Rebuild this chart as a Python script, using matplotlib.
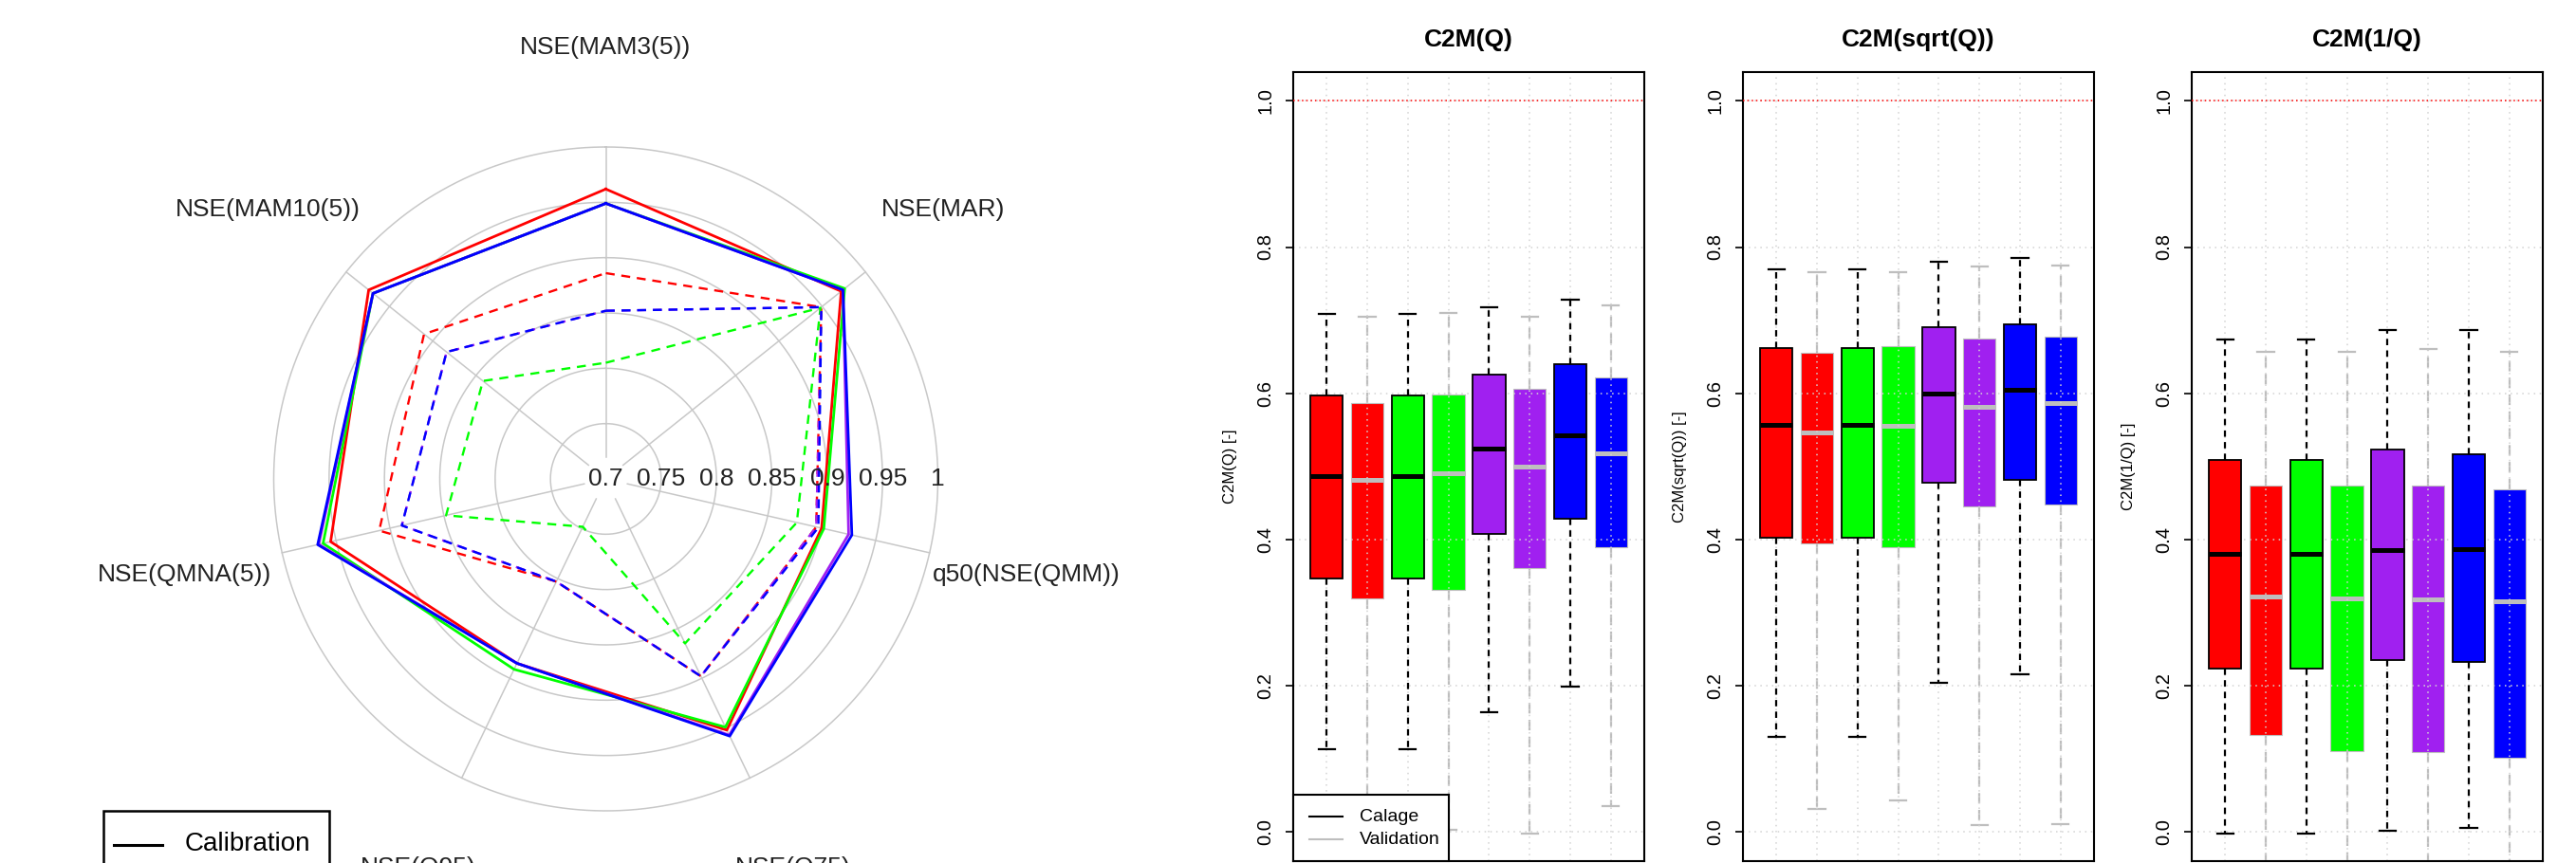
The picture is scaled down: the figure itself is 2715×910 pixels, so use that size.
import numpy as np
import matplotlib
matplotlib.use("Agg")
import matplotlib.pyplot as plt
from matplotlib.patches import Rectangle
from matplotlib.lines import Line2D

plt.rcParams['font.family'] = ['Liberation Sans', 'DejaVu Sans']

# ---- radar data (NSE criteria, clockwise from top) ----
criteria = ["NSE(MAM3(5))", "NSE(MAR)", "q50(NSE(QMM))", "NSE(Q75)",
            "NSE(Q95)", "NSE(QMNA(5))", "NSE(MAM10(5))"]
red_cal = [0.962, 0.972, 0.900, 0.952, 0.885, 0.955, 0.974]
green_cal = [0.949, 0.976, 0.902, 0.949, 0.891, 0.962, 0.969]
purple_cal = [0.949, 0.974, 0.925, 0.957, 0.885, 0.966, 0.969]
blue_cal = [0.949, 0.974, 0.928, 0.958, 0.885, 0.967, 0.969]
red_val = [0.886, 0.949, 0.895, 0.898, 0.803, 0.910, 0.910]
green_val = [0.805, 0.948, 0.877, 0.865, 0.748, 0.848, 0.842]
purple_val = [0.852, 0.949, 0.895, 0.898, 0.803, 0.889, 0.884]
blue_val = [0.852, 0.949, 0.897, 0.898, 0.803, 0.889, 0.884]
ring_values = [0.7, 0.75, 0.8, 0.85, 0.9, 0.95, 1.0]
ring_labels = ["0.7", "0.75", "0.8", "0.85", "0.9", "0.95", "1"]

# ---- boxplot data: order red cal, red val, green cal, green val,
# purple cal, purple val, blue cal, blue val ----
q_hi = [0.708, 0.705, 0.708, 0.710, 0.718, 0.705, 0.728, 0.720]
q_q3 = [0.597, 0.587, 0.597, 0.598, 0.626, 0.606, 0.640, 0.621]
q_med = [0.487, 0.481, 0.487, 0.490, 0.524, 0.500, 0.543, 0.518]
q_q1 = [0.347, 0.320, 0.347, 0.331, 0.408, 0.361, 0.428, 0.389]
q_lo = [0.113, 0.045, 0.113, 0.003, 0.164, -0.003, 0.199, 0.035]

sq_hi = [0.769, 0.766, 0.769, 0.766, 0.780, 0.773, 0.785, 0.775]
sq_q3 = [0.662, 0.655, 0.662, 0.664, 0.690, 0.675, 0.694, 0.677]
sq_med = [0.557, 0.546, 0.557, 0.556, 0.599, 0.581, 0.605, 0.586]
sq_q1 = [0.403, 0.395, 0.403, 0.390, 0.478, 0.445, 0.482, 0.448]
sq_lo = [0.130, 0.031, 0.130, 0.043, 0.204, 0.009, 0.216, 0.011]

inv_hi = [0.674, 0.657, 0.674, 0.657, 0.687, 0.661, 0.687, 0.657]
inv_q3 = [0.509, 0.474, 0.509, 0.474, 0.523, 0.474, 0.516, 0.469]
inv_med = [0.380, 0.322, 0.380, 0.320, 0.386, 0.318, 0.387, 0.316]
inv_q1 = [0.224, 0.132, 0.224, 0.111, 0.235, 0.109, 0.233, 0.102]
inv_lo = [-0.003, -0.080, -0.003, -0.080, 0.002, -0.080, 0.005, -0.080]

panel_titles = ["C2M(Q)", "C2M(sqrt(Q))", "C2M(1/Q)"]
panel_ylabels = ["C2M(Q) [-]", "C2M(sqrt(Q)) [-]", "C2M(1/Q) [-]"]
yticks = [0.0, 0.2, 0.4, 0.6, 0.8, 1.0]
legend_labels = ["Calage", "Validation"]

colors = ["#FF0000", "#00FF00", "#A020F0", "#0000FF"]

W, H = 2715, 910
fig = plt.figure(figsize=(W / 100, H / 100), dpi=100)


def fx(x):
    return x / W


def fy(y):
    return 1 - y / H


# ================= radar chart =================
cx, cy, R = 638.5, 505, 350
ax = fig.add_axes([fx(cx - R), fy(cy + R), 2 * R / W, 2 * R / H], polar=True)
ax.set_theta_offset(np.pi / 2)
ax.set_theta_direction(-1)
ax.set_ylim(0.7, 1.0)
ax.grid(False)
ax.set_xticks([])
ax.set_yticks([])
ax.spines['polar'].set_visible(False)
ax.patch.set_alpha(0)

n = len(criteria)
theta = np.arange(n) * 2 * np.pi / n
circ = np.linspace(0, 2 * np.pi, 500)
for v in ring_values[1:]:
    ax.plot(circ, np.full_like(circ, v), color="#C8C8C8", lw=1.1,
            clip_on=False, zorder=1)
for t in theta:
    ax.plot([t, t], [0.72, 1.0], color="#C8C8C8", lw=1.1, clip_on=False,
            zorder=1)

closed = np.append(theta, theta[0])
for vals, c in zip([red_val, green_val, purple_val, blue_val], colors):
    ax.plot(closed, vals + vals[:1], color=c, lw=1.7, ls=(0, (4, 3)),
            zorder=3)
for vals, c in zip([red_cal, green_cal, purple_cal, blue_cal], colors):
    ax.plot(closed, vals + vals[:1], color=c, lw=2.0, zorder=4)

for v, lab in zip(ring_values, ring_labels):
    ax.text(np.pi / 2, v, lab, ha="center", va="center", fontsize=19,
            color="#222222", zorder=5)
for t, lab in zip(theta, criteria):
    ax.text(t, 1.09, lab, ha="center", va="center", fontsize=19,
            color="#222222", clip_on=False)

# legend box (runs off the bottom edge)
fig.add_artist(Rectangle((fx(109), fy(930)), (347 - 109) / W,
                         (930 - 855) / H, transform=fig.transFigure,
                         fill=False, ec="black", lw=1.8))
fig.add_artist(Line2D([fx(120), fx(171)], [fy(891), fy(891)],
                      transform=fig.transFigure, color="black", lw=2.2))
fig.text(fx(195), fy(890), "Calibration", fontsize=20, ha="left",
         va="center")

# ================= boxplots =================
panel_stats = [
    (q_hi, q_q3, q_med, q_q1, q_lo),
    (sq_hi, sq_q3, sq_med, sq_q1, sq_lo),
    (inv_hi, inv_q3, inv_med, inv_q1, inv_lo),
]
panel_left = [1363, 1837, 2310]
top, bottom, pw = 75.5, 908, 370
box_colors = [c for c in colors for _ in range(2)]
grey = "#BEBEBE"

for k, (hi, q3, med, q1, lo) in enumerate(panel_stats):
    bx = fig.add_axes([fx(panel_left[k]), fy(bottom), pw / W,
                       (bottom - top) / H])
    bx.set_xlim(0.18, 8.82)
    bx.set_ylim(-0.04, 1.04)

    for i in range(8):
        calib = i % 2 == 0
        st = [dict(med=med[i], q1=q1[i], q3=q3[i], whislo=lo[i],
                   whishi=hi[i], fliers=[])]
        ec = "black" if calib else grey
        z = 4 if calib else 1
        bx.bxp(st, positions=[i + 1], widths=0.8, patch_artist=True,
               showfliers=False, manage_ticks=False,
               boxprops=dict(facecolor=box_colors[i], edgecolor=ec,
                             lw=1.3 if calib else 0.8, zorder=z),
               medianprops=dict(color=ec, lw=3.6, solid_capstyle="butt",
                                zorder=z + 0.1),
               whiskerprops=dict(color=ec, lw=1.6,
                                 ls=(0, (3, 2.5)) if calib else (0, (5, 3)),
                                 zorder=z),
               capprops=dict(color=ec, lw=1.6, zorder=z))

    for y in yticks:
        bx.axhline(y, color="#D3D3D3", lw=1.1, ls=(0, (1, 3)), zorder=2)
    for x in range(1, 9):
        bx.axvline(x, color="#D3D3D3", lw=1.1, ls=(0, (1, 3)), zorder=2)
    bx.axhline(1.0, color="#FF0000", lw=1.1, ls=(0, (1, 2)), zorder=3)

    bx.set_xticks([])
    bx.set_yticks(yticks)
    bx.set_yticklabels([f"{y:.1f}" for y in yticks], rotation=90,
                       va="center", fontsize=14.5)
    bx.tick_params(axis="y", length=6, width=1.2, pad=8)
    for s in bx.spines.values():
        s.set_linewidth(1.5)
    bx.set_ylabel(panel_ylabels[k], fontsize=12)
    bx.yaxis.set_label_coords(-59 / pw, 0.5)
    fig.text(fx(panel_left[k] + pw / 2), fy(42), panel_titles[k],
             fontsize=19, fontweight="bold", ha="center", va="center")

    if k == 0:
        fig.add_artist(Rectangle((fx(1363), fy(908)), (1527 - 1363) / W,
                                 (908 - 838) / H, transform=fig.transFigure,
                                 fc="white", ec="black", lw=1.5, zorder=10))
        for yy, c, lab in zip([861, 885], ["black", grey], legend_labels):
            fig.add_artist(Line2D([fx(1380), fx(1415)], [fy(yy), fy(yy)],
                                  transform=fig.transFigure, color=c,
                                  lw=1.5, zorder=11))
            fig.text(fx(1433), fy(yy), lab, fontsize=14, ha="left",
                     va="center", zorder=11)

fig.savefig("out.png", dpi=100)
